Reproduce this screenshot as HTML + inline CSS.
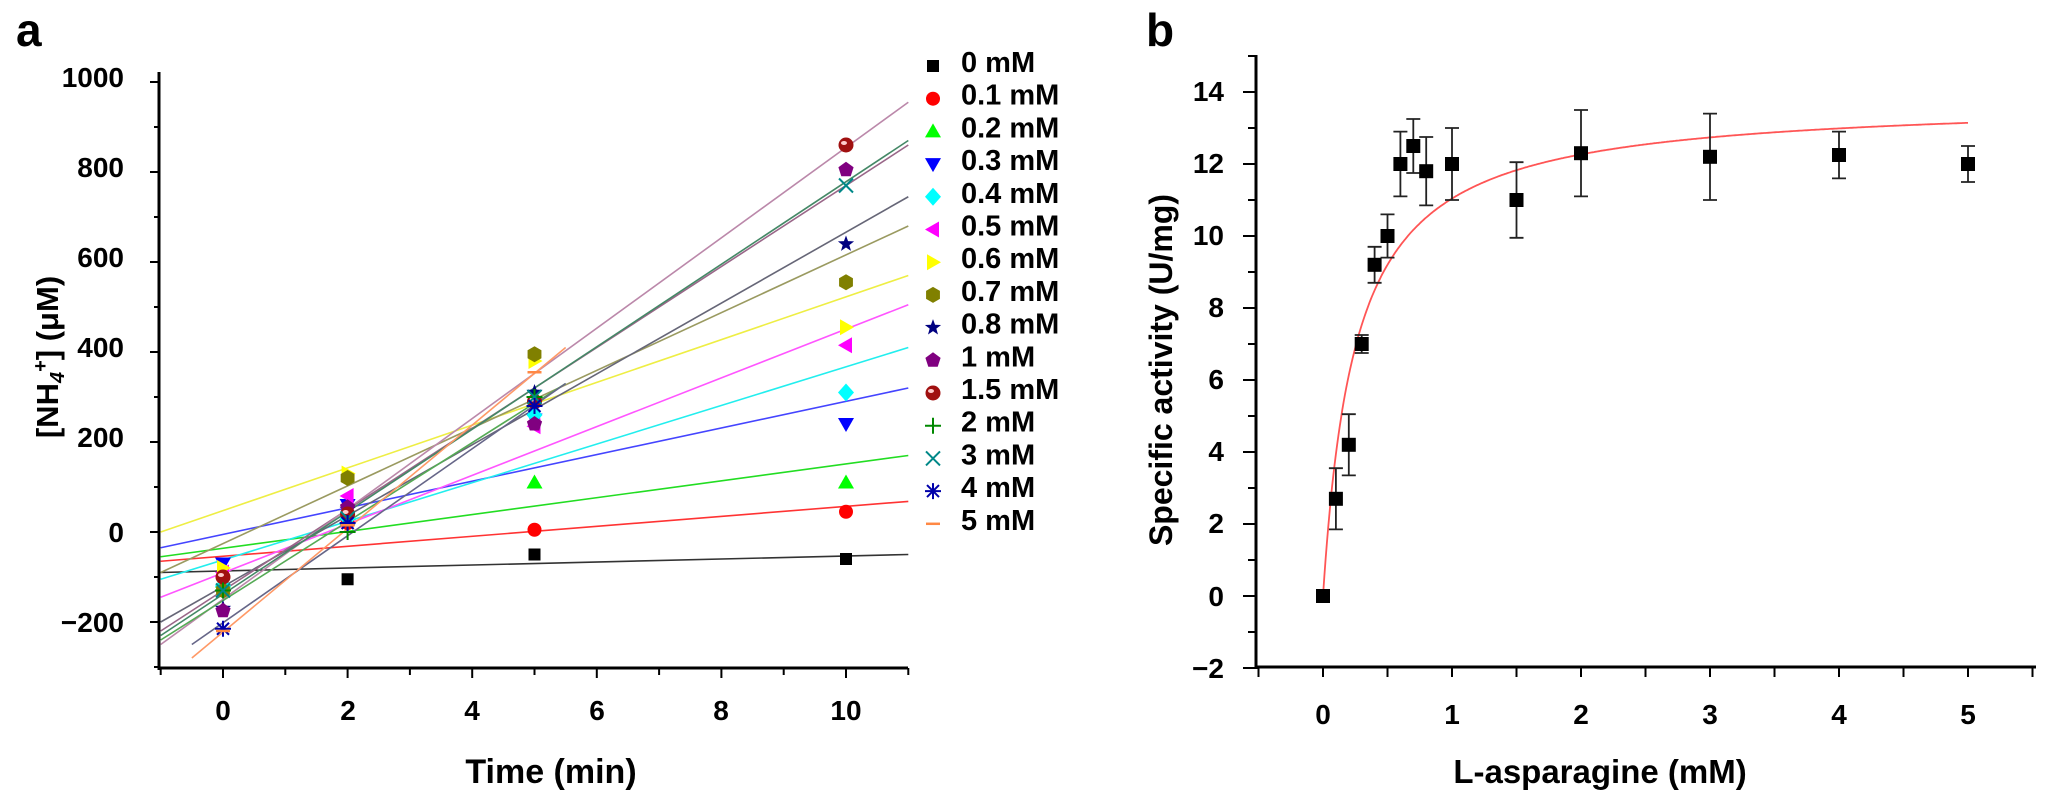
<!DOCTYPE html>
<html><head><meta charset="utf-8"><style>
html,body{margin:0;padding:0;background:#fff;}
svg{display:block;font-family:"Liberation Sans",Arial,sans-serif;font-weight:bold;}
</style></head><body>
<svg id="s" width="2046" height="791" viewBox="0 0 2046 791" xmlns="http://www.w3.org/2000/svg">
<rect width="2046" height="791" fill="#fff"/>
<text x="16" y="46" font-size="46">a</text>
<text x="1146" y="46" font-size="46">b</text>
<g id="axa" stroke="#000" fill="none"></g>
<g id="la"></g>
<g id="ma"></g>
<g font-size="28" text-anchor="end">
<text x="124" y="87">1000</text><text x="124" y="177">800</text><text x="124" y="267">600</text>
<text x="124" y="357">400</text><text x="124" y="447">200</text><text x="124" y="542">0</text>
<text x="124" y="632">−200</text>
</g>
<g font-size="28" text-anchor="middle">
<text x="223" y="720">0</text><text x="348" y="720">2</text><text x="472" y="720">4</text>
<text x="597" y="720">6</text><text x="721" y="720">8</text><text x="846" y="720">10</text>
</g>
<text x="551" y="783" font-size="34" text-anchor="middle">Time (min)</text>
<text transform="translate(58,357) rotate(-90)" font-size="31" text-anchor="middle">[NH<tspan font-size="20" dy="6" font-style="italic">4</tspan><tspan font-size="20" dy="-17">+</tspan><tspan dy="11">] (μM)</tspan></text>
<g id="leg" font-size="29"></g>
<g id="axb" stroke="#000" fill="none"></g>
<g font-size="28" text-anchor="end">
<text x="1224" y="101">14</text><text x="1224" y="173">12</text><text x="1224" y="245">10</text>
<text x="1224" y="317">8</text><text x="1224" y="389">6</text><text x="1224" y="461">4</text>
<text x="1224" y="533">2</text><text x="1224" y="606">0</text><text x="1224" y="678">−2</text>
</g>
<g font-size="28" text-anchor="middle">
<text x="1323" y="724">0</text><text x="1452" y="724">1</text><text x="1581" y="724">2</text>
<text x="1710" y="724">3</text><text x="1839" y="724">4</text><text x="1968" y="724">5</text>
</g>
<text x="1600" y="783" font-size="33" text-anchor="middle">L-asparagine (mM)</text>
<text transform="translate(1172,370) rotate(-90)" font-size="32" text-anchor="middle">Specific activity (U/mg)</text>
<g id="b"></g>
</svg>
<script>
var NS="http://www.w3.org/2000/svg";
function el(p,t,a){var e=document.createElementNS(NS,t);for(var k in a)e.setAttribute(k,a[k]);p.appendChild(e);return e;}
var g=function(id){return document.getElementById(id);};
var X=function(t){return 223+62.3*t;},Y=function(v){return 532-0.45*v;};
var A=g('axa');
el(A,'line',{x1:159,y1:72,x2:159,y2:670,'stroke-width':3});
el(A,'line',{x1:158,y1:668,x2:908,y2:668,'stroke-width':3});
for(var v=-300;v<=1000;v+=100){var mj=(v%200==0);el(A,'line',{x1:mj?150:154,y1:Y(v),x2:159,y2:Y(v),'stroke-width':2});}
for(var t=-1;t<=11;t++){el(A,'line',{x1:X(t),y1:668,x2:X(t),y2:t%2==0?678:675,'stroke-width':2});}
var S=[
['#000','#333',[-1,-90,11,-50],[[0,-95],[2,-105],[5,-50],[10,-60]],'sq'],
['#f00','#f33',[-1,-65,11,68],[[0,-100],[2,20],[5,5],[10,45]],'ci'],
['#0f0','#2d2',[-1,-55,11,170],[[0,-110],[2,40],[5,110],[10,110]],'tu'],
['#00f','#44f',[-1,-35,11,320],[[0,-70],[2,60],[5,250],[10,240]],'td'],
['#0ff','#2ee',[-1,-105,11,410],[[0,-120],[2,30],[5,260],[10,310]],'di'],
['#f0f','#f5f',[-1,-145,11,505],[[0,-90],[2,80],[5,235],[10,415]],'tl'],
['#ff0','#ee4',[-1,0,11,570],[[0,-80],[2,130],[5,380],[10,455]],'tr'],
['#808000','#9a9a60',[-1,-90,11,680],[[0,-130],[2,120],[5,395],[10,555]],'hx'],
['#000080','#667',[-1,-200,11,745],[[0,-170],[2,50],[5,310],[10,640]],'st'],
['#800080','#968',[-1,-220,11,860],[[0,-175],[2,55],[5,240],[10,805]],'pe'],
['#a01010','#b8a',[-1,-250,11,955],[[0,-100],[2,40],[5,290],[10,860]],'ba'],
['#080','#5a5',[-1,-240,5.5,330],[[0,-130],[2,0],[5,300]],'pl'],
['#088','#486',[-1,-230,11,870],[[0,-130],[2,30],[5,300],[10,770]],'x'],
['#00a','#668',[-0.5,-250,5.5,330],[[0,-215],[2,20],[5,280]],'as'],
['#f84','#f96',[-0.5,-280,5.5,410],[[0,-220],[2,15],[5,355]],'da']
];
function mk(p,k,x,y,c){
switch(k){
case 'sq':el(p,'rect',{x:x-6,y:y-6,width:12,height:12,fill:c});break;
case 'ci':el(p,'circle',{cx:x,cy:y,r:7,fill:c});break;
case 'tu':el(p,'polygon',{points:[x,y-8,x+8,y+6,x-8,y+6].join(' '),fill:c});break;
case 'td':el(p,'polygon',{points:[x,y+8,x+8,y-6,x-8,y-6].join(' '),fill:c});break;
case 'di':el(p,'polygon',{points:[x,y-9,x+8,y,x,y+9,x-8,y].join(' '),fill:c});break;
case 'tl':el(p,'polygon',{points:[x-8,y,x+6,y-8,x+6,y+8].join(' '),fill:c});break;
case 'tr':el(p,'polygon',{points:[x+8,y,x-6,y-8,x-6,y+8].join(' '),fill:c});break;
case 'hx':var pts=[];for(var i=0;i<6;i++){var a=Math.PI/3*i+Math.PI/6;pts.push(x+8*Math.cos(a),y+8*Math.sin(a));}el(p,'polygon',{points:pts.join(' '),fill:c});break;
case 'st':var pts=[];for(var i=0;i<10;i++){var a=-Math.PI/2+Math.PI/5*i,rr=i%2?3.5:8.5;pts.push(x+rr*Math.cos(a),y+rr*Math.sin(a));}el(p,'polygon',{points:pts.join(' '),fill:c});break;
case 'pe':var pts=[];for(var i=0;i<5;i++){var a=-Math.PI/2+2*Math.PI/5*i;pts.push(x+8*Math.cos(a),y+8*Math.sin(a));}el(p,'polygon',{points:pts.join(' '),fill:c});break;
case 'ba':el(p,'circle',{cx:x,cy:y,r:7.5,fill:c});el(p,'ellipse',{cx:x-2,cy:y-2,rx:3,ry:2,fill:'#fcc'});break;
case 'pl':el(p,'path',{d:'M'+(x-8)+' '+y+'h16M'+x+' '+(y-8)+'v16',stroke:c,'stroke-width':2});break;
case 'x':el(p,'path',{d:'M'+(x-7)+' '+(y-7)+'l14 14M'+(x+7)+' '+(y-7)+'l-14 14',stroke:c,'stroke-width':2});break;
case 'as':el(p,'path',{d:'M'+(x-8)+' '+y+'h16M'+x+' '+(y-8)+'v16M'+(x-6)+' '+(y-6)+'l12 12M'+(x+6)+' '+(y-6)+'l-12 12',stroke:c,'stroke-width':2});break;
case 'da':el(p,'path',{d:'M'+(x-7)+' '+y+'h14',stroke:c,'stroke-width':2.5});break;
}}
var L=g('la'),M=g('ma'),G=g('leg');
var names=['0 mM','0.1 mM','0.2 mM','0.3 mM','0.4 mM','0.5 mM','0.6 mM','0.7 mM','0.8 mM','1 mM','1.5 mM','2 mM','3 mM','4 mM','5 mM'];
S.forEach(function(s,i){var l=s[2];
el(L,'line',{x1:X(l[0]),y1:Y(l[1]),x2:X(l[2]),y2:Y(l[3]),stroke:s[1],'stroke-width':1.6});
s[3].forEach(function(p){mk(M,s[4],X(p[0]),Y(p[1]),s[0]);});
var yy=62+i*32.7;mk(G,s[4],933,yy+4,s[0]);
var t=el(G,'text',{x:961,y:yy+10});t.textContent=names[i];
});
var BX=function(s){return 1323+129*s;},BY=function(v){return 596-36*v;};
var B=g('axb');
el(B,'line',{x1:1256,y1:55,x2:1256,y2:669,'stroke-width':3});
el(B,'line',{x1:1255,y1:667,x2:2036,y2:667,'stroke-width':3});
for(var v=-2;v<=15;v++){if(BY(v)<55)continue;el(B,'line',{x1:v%2==0?1243:1248,y1:BY(v),x2:1256,y2:BY(v),'stroke-width':2});}
for(var s=-0.5;s<=5.5;s+=0.5){el(B,'line',{x1:BX(s),y1:667,x2:BX(s),y2:677,'stroke-width':2});}
var Bg=g('b');
var d='';for(var s=0;s<=5;s+=0.01){var v=13.8*s/(0.25+s);d+=(s==0?'M':'L')+BX(s).toFixed(1)+' '+BY(v).toFixed(1);}
el(Bg,'path',{d:d,stroke:'#f55',fill:'none','stroke-width':1.8});
var P=[[0,0,0],[0.1,2.7,0.85],[0.2,4.2,0.85],[0.3,7.0,0.25],[0.4,9.2,0.5],[0.5,10,0.6],[0.6,12,0.9],[0.7,12.5,0.75],[0.8,11.8,0.95],[1,12,1],[1.5,11,1.05],[2,12.3,1.2],[3,12.2,1.2],[4,12.25,0.65],[5,12,0.5]];
P.forEach(function(p){var x=BX(p[0]),y=BY(p[1]);
if(p[2]>0){var y1=BY(p[1]+p[2]),y2=BY(p[1]-p[2]);
el(Bg,'path',{d:'M'+x+' '+y1+'V'+y2+'M'+(x-7)+' '+y1+'h14M'+(x-7)+' '+y2+'h14',stroke:'#222','stroke-width':1.8,fill:'none'});}
el(Bg,'rect',{x:x-7,y:y-7,width:14,height:14,fill:'#000'});});
</script>
</body></html>
